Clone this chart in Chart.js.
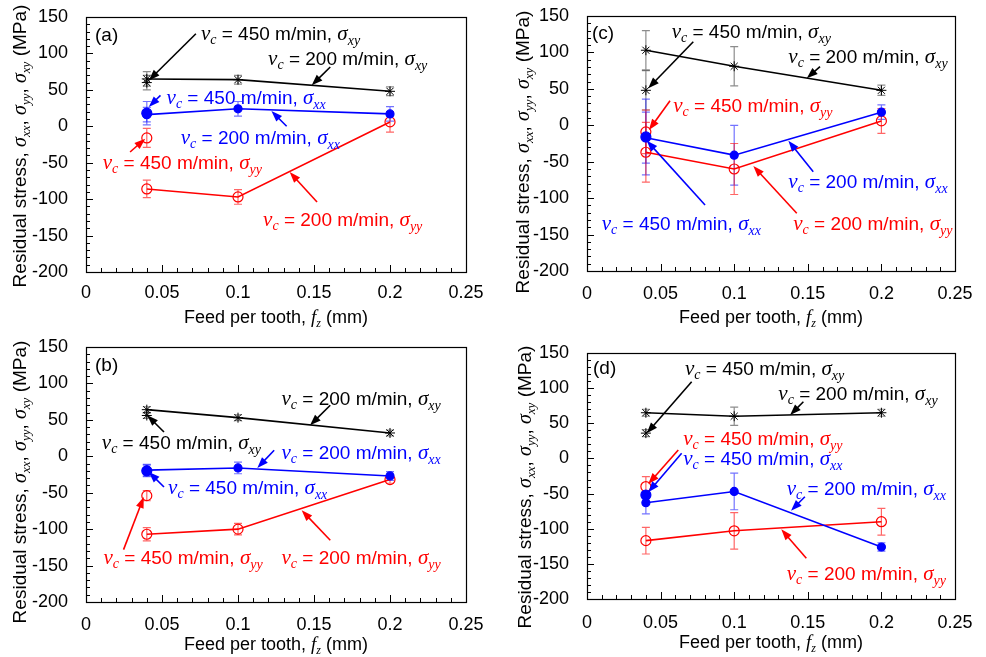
<!DOCTYPE html>
<html><head><meta charset="utf-8">
<script src="https://cdn.jsdelivr.net/npm/chart.js@4.4.0/dist/chart.umd.min.js"></script>
<style>
html,body{margin:0;padding:0;background:#fff;}
#wrap{position:relative;width:986px;height:657px;overflow:hidden;background:#fff;}
.pane{position:absolute;}
canvas{display:block;}
</style></head><body>
<div id="wrap">
<div class="pane" style="left:0;top:0;"><canvas id="ca" width="493" height="330"></canvas></div>
<div class="pane" style="left:493px;top:0;"><canvas id="cc" width="493" height="330"></canvas></div>
<div class="pane" style="left:0;top:330px;"><canvas id="cb" width="493" height="327"></canvas></div>
<div class="pane" style="left:493px;top:330px;"><canvas id="cd" width="493" height="327"></canvas></div>
</div>
<script>
// ---------- data ----------
const feed = [0.04, 0.1, 0.2];
const feed450 = [0.04];
const xTickLabels = [0, 0.05, 0.1, 0.15, 0.2, 0.25];
const yTickLabels = [-200, -150, -100, -50, 0, 50, 100, 150];

// panel (a)
const aXy200 = [65, 64, 48],     aXy200Err = [10, 6, 6];
const aXy450 = [60],             aXy450Err = [10];
const aXx200 = [16, 24, 17],     aXx200Err = [10, 10, 10];
const aXx450 = [18],             aXx450Err = [16];
const aYy200 = [-86, -97, 6],    aYy200Err = [12, 10, 14];
const aYy450 = [-16],            aYy450Err = [13];
// panel (b)
const bXy200 = [64, 53, 32],     bXy200Err = [4, 4, 4];
const bXy450 = [56],             bXy450Err = [4];
const bXx200 = [-19, -16, -27],  bXx200Err = [8, 8, 6];
const bXx450 = [-20],            bXx450Err = [8];
const bYy200 = [-107, -100, -32],bYy200Err = [9, 8, 5];
const bYy450 = [-54],            bYy450Err = [7];
// panel (c)
const cXy200 = [103, 81, 48],    cXy200Err = [27, 27, 7];
const cXy450 = [48],             cXy450Err = [27];
const cXx200 = [-17, -41, 18],   cXx200Err = [35, 41, 10];
const cXx450 = [-16],            cXx450Err = [52];
const cYy200 = [-37, -60, 6],    cYy200Err = [41, 35, 17];
const cYy450 = [-9],             cYy450Err = [30];
// panel (d)
const dXy200 = [65, 60, 65],     dXy200Err = [5, 13, 5];
const dXy450 = [36],             dXy450Err = [5];
const dXx200 = [-63, -47, -126], dXx200Err = [16, 26, 6];
const dXx450 = [-52],            dXx450Err = [5];
const dYy200 = [-117, -103, -90],dYy200Err = [19, 26, 19];
const dYy450 = [-40],            dYy450Err = [14];

// ---------- annotation layout (data coordinates) ----------
// [speed, component, colour key, textX, textY, arrowFromX, arrowFromY, arrowToX, arrowToY]
const notesA = [
  ['450','xy','k', 0.0756,118,  0.0723,127,   0.0413,63],
  ['200','xy','k', 0.1198,84,   0.1607,81.4,  0.1485,56.3],
  ['450','xx','b', 0.053,30,    0.049,42.5,   0.0413,26.5],
  ['200','xx','b', 0.0623,-24.7,0.132,0,      0.122,21],
  ['450','yy','r', 0.011,-59,   0.029,-35.3,  0.039,-17],
  ['200','yy','r', 0.1165,-137, 0.152,-104,   0.134,-62.7]
];
const notesB = [
  ['200','xy','k', 0.1286,70,   0.1607,70,    0.1474,42.5],
  ['450','xy','k', 0.0104,10.5, 0.0513,33.4,  0.0403,56.3],
  ['200','xx','b', 0.1286,-3.2, 0.1238,8.2,   0.1127,-16],
  ['450','xx','b', 0.054,-51.2, 0.0513,-42.1, 0.0413,-21.5],
  ['450','yy','r', 0.0115,-147.3,0.0247,-128.1,0.038,-55.9],
  ['200','yy','r', 0.1286,-147.3,0.1607,-115.3,0.1419,-74.1]
];
const notesC = [
  ['450','xy','k', 0.0575,119.4, 0.0722,114.7, 0.0416,50.8],
  ['200','xy','k', 0.1368,85.1,  0.1583,80.4,  0.1493,64.5],
  ['450','yy','r', 0.0586,18.7,  0.0564,33.8,  0.0421,-6.5],
  ['200','xx','b', 0.1368,-86.5, 0.1537,-63.7, 0.1368,-21.1],
  ['450','xx','b', 0.01,-143.7,  0.0802,-109.4,0.0406,-21.1],
  ['200','yy','r', 0.1401,-143.7,0.1425,-120.8,0.113,-55.9]
];
const notesD = [
  ['450','xy','k', 0.0666,118.7, 0.0711,109.1, 0.0406,35.7],
  ['200','xy','k', 0.130,83,     0.147,80.7,   0.138,61.7],
  ['450','yy','r', 0.0654,19,    0.062,12,     0.0416,-36.4],
  ['450','xx','b', 0.0654,-9.4,  0.0643,7.3,   0.0416,-48.2],
  ['200','xx','b', 0.1357,-52,   0.148,-54.5,  0.1386,-74.4],
  ['200','yy','r', 0.1357,-173,  0.149,-142,   0.132,-100.9]
];

// ---------- styling ----------
const COL = {k:'#000000', b:'#0000ff', r:'#ff0000'};
const ERRCOL = {k:'rgba(0,0,0,0.45)', b:'rgba(0,0,255,0.55)', r:'rgba(255,0,0,0.6)'};
const SANS = '"Liberation Sans", Arial, sans-serif';
const SERIF = '"Liberation Serif", "Times New Roman", serif';

function vcSegs(speed, comp){
  return [
    {t:'v', f:'italic 21px '+SERIF},
    {t:'c', f:'italic 14px '+SERIF, dy:4},
    {t:' = '+speed+' m/min, ', f:'19px '+SANS},
    {t:'\u03c3', f:'italic 21px '+SERIF},
    {t:comp, f:'italic 14px '+SERIF, dy:5}
  ];
}
const yTitleSegs = [
  {t:'Residual stress, ', f:'19px '+SANS},
  {t:'\u03c3', f:'italic 20px '+SERIF}, {t:'xx', f:'italic 13px '+SERIF, dy:4}, {t:', ', f:'19px '+SANS},
  {t:'\u03c3', f:'italic 20px '+SERIF}, {t:'yy', f:'italic 13px '+SERIF, dy:4}, {t:', ', f:'19px '+SANS},
  {t:'\u03c3', f:'italic 20px '+SERIF}, {t:'xy', f:'italic 13px '+SERIF, dy:4}, {t:' (MPa)', f:'19px '+SANS}
];
const xTitleSegs = [
  {t:'Feed per tooth, ', f:'18px '+SANS},
  {t:'f', f:'italic 19px '+SERIF}, {t:'z', f:'italic 12px '+SERIF, dy:4},
  {t:' (mm)', f:'18px '+SANS}
];

function drawRich(ctx, segs, x, y, color, rot, center){
  ctx.save();
  ctx.fillStyle = color; ctx.textBaseline = 'alphabetic'; ctx.textAlign = 'left';
  let total = 0;
  const w = segs.map(s => { ctx.font = s.f; const m = ctx.measureText(s.t).width; total += m; return m; });
  ctx.translate(x, y);
  if (rot) ctx.rotate(rot);
  let cx = center ? -total/2 : 0;
  segs.forEach((s,i) => { ctx.font = s.f; ctx.fillText(s.t, cx, s.dy || 0); cx += w[i]; });
  ctx.restore();
}

function arrow(ctx, x1, y1, x2, y2, color){
  const a = Math.atan2(y2-y1, x2-x1), L = 11, W = 4;
  const c = Math.cos(a), s = Math.sin(a);
  ctx.save();
  ctx.strokeStyle = color; ctx.fillStyle = color; ctx.lineWidth = 1.6;
  ctx.beginPath(); ctx.moveTo(x1, y1); ctx.lineTo(x2 - L*0.7*c, y2 - L*0.7*s); ctx.stroke();
  ctx.beginPath(); ctx.moveTo(x2, y2);
  ctx.lineTo(x2 - L*c + W*s, y2 - L*s - W*c);
  ctx.lineTo(x2 - L*c - W*s, y2 - L*s + W*c);
  ctx.closePath(); ctx.fill();
  ctx.restore();
}

const decorPlugin = {
  id: 'decor',
  beforeDatasetsDraw(chart){
    const ctx = chart.ctx, xs = chart.scales.x, ys = chart.scales.y;
    chart.data.datasets.forEach(ds => {
      if (!ds.errors) return;
      ctx.save(); ctx.strokeStyle = ds.errColor; ctx.lineWidth = 1.2;
      ds.data.forEach((p, i) => {
        const e = ds.errors[i]; if (!e) return;
        const px = xs.getPixelForValue(p.x);
        const y1 = ys.getPixelForValue(p.y + e), y2 = ys.getPixelForValue(p.y - e);
        ctx.beginPath();
        ctx.moveTo(px, y1); ctx.lineTo(px, y2);
        ctx.moveTo(px-4, y1); ctx.lineTo(px+4, y1);
        ctx.moveTo(px-4, y2); ctx.lineTo(px+4, y2);
        ctx.stroke();
      });
      ctx.restore();
    });
  },
  afterDatasetsDraw(chart){
    const ctx = chart.ctx, xs = chart.scales.x, ys = chart.scales.y;
    const cfg = chart.options.plugins.decor;
    (cfg.notes || []).forEach(n => {
      const [sp, comp, ck, tx, ty, ax1, ay1, ax2, ay2] = n;
      arrow(ctx, xs.getPixelForValue(ax1), ys.getPixelForValue(ay1),
                 xs.getPixelForValue(ax2), ys.getPixelForValue(ay2), COL[ck]);
      drawRich(ctx, vcSegs(sp, comp), xs.getPixelForValue(tx), ys.getPixelForValue(ty), COL[ck]);
    });
  },
  afterDraw(chart){
    const ctx = chart.ctx, a = chart.chartArea, xs = chart.scales.x, ys = chart.scales.y;
    const cfg = chart.options.plugins.decor;
    ctx.save();
    ctx.strokeStyle = '#000'; ctx.lineWidth = 1.2;
    ctx.strokeRect(Math.round(a.left)+0.5, Math.round(a.top)+0.5, Math.round(a.right-a.left), Math.round(a.bottom-a.top));
    ctx.lineWidth = 1;
    ctx.beginPath();
    for (let v = -200; v <= 150; v += 10) {
      const py = Math.round(ys.getPixelForValue(v)) + 0.5;
      const len = (v % 50 === 0) ? 7 : 4;
      ctx.moveTo(a.left, py); ctx.lineTo(a.left + len, py);
    }
    for (let k = 0; k <= 25; k++) {
      const px = Math.round(xs.getPixelForValue(k/100)) + 0.5;
      const len = (k % 5 === 0) ? 7 : 4;
      ctx.moveTo(px, a.bottom); ctx.lineTo(px, a.bottom - len);
    }
    ctx.stroke();
    ctx.restore();
    // panel letter
    ctx.save(); ctx.fillStyle = '#000'; ctx.font = '19px ' + SANS;
    ctx.fillText(cfg.letter, a.left + cfg.letterDx, a.top + cfg.letterDy);
    ctx.restore();
    // axis titles
    drawRich(ctx, yTitleSegs, cfg.yTitleX, cfg.yTitleY, '#000', -Math.PI/2, true);
    drawRich(ctx, xTitleSegs, (a.left + a.right)/2, cfg.xTitleY, '#000', 0, true);
  }
};

function series(xs, ys, errs, ck, style, line, radius){
  const filled = style === 'filled';
  return {
    data: xs.map((x, i) => ({x: x, y: ys[i]})),
    errors: errs, errColor: ERRCOL[ck],
    showLine: line, borderColor: COL[ck], borderWidth: 1.6,
    pointStyle: style === 'star' ? 'star' : 'circle',
    pointRadius: radius, pointBorderWidth: style === 'star' ? 1 : 1.2,
    pointBorderColor: COL[ck],
    pointBackgroundColor: filled ? COL[ck] : 'rgba(0,0,0,0)',
    backgroundColor: filled ? COL[ck] : 'rgba(0,0,0,0)',
    tension: 0
  };
}

function makeChart(id, S, box, deco){
  const canvas = document.getElementById(id);
  const W = canvas.width, H = canvas.height;
  const datasets = [
    series(feed, S.xy200, S.xy200e, 'k', 'star', true, 5),
    series(feed450, S.xy450, S.xy450e, 'k', 'star', false, 5),
    series(feed, S.xx200, S.xx200e, 'b', 'filled', true, 4),
    series(feed450, S.xx450, S.xx450e, 'b', 'filled', false, 5),
    series(feed, S.yy200, S.yy200e, 'r', 'open', true, 5),
    series(feed450, S.yy450, S.yy450e, 'r', 'open', false, 5)
  ];
  const tickFont = {family: SANS, size: 18};
  return new Chart(canvas, {
    type: 'scatter',
    data: {datasets},
    plugins: [decorPlugin],
    options: {
      responsive: false, animation: false, devicePixelRatio: 1,
      layout: {padding: {left: 0, top: box.T, right: W - box.R, bottom: 0}},
      plugins: {legend: {display: false}, tooltip: {enabled: false}, decor: deco},
      scales: {
        x: {
          type: 'linear', min: 0, max: 0.25,
          afterBuildTicks: s => { s.ticks = xTickLabels.map(v => ({value: v})); },
          afterFit: s => { s.height = H - box.B; s.paddingLeft = 0; s.paddingRight = 0; },
          ticks: {font: tickFont, color: '#000', padding: box.xPad, maxRotation: 0, autoSkip: false,
                  callback: v => String(+(+v).toFixed(2))},
          grid: {display: false, drawTicks: false},
          border: {display: false}
        },
        y: {
          type: 'linear', min: -200, max: 150,
          afterBuildTicks: s => { s.ticks = yTickLabels.map(v => ({value: v})); },
          afterFit: s => { s.width = box.L; s.paddingTop = 0; s.paddingBottom = 0; },
          ticks: {font: tickFont, color: '#000', padding: 18, autoSkip: false,
                  callback: v => String(v)},
          grid: {display: false, drawTicks: false},
          border: {display: false}
        }
      }
    }
  });
}

makeChart('ca', {
  xy200:aXy200, xy200e:aXy200Err, xy450:aXy450, xy450e:aXy450Err,
  xx200:aXx200, xx200e:aXx200Err, xx450:aXx450, xx450e:aXx450Err,
  yy200:aYy200, yy200e:aYy200Err, yy450:aYy450, yy450e:aYy450Err
}, {L:86, T:17, R:466, B:272, xPad:10},
{notes: notesA, letter:'(a)', letterDx:9, letterDy:24, yTitleX:26, yTitleY:146, xTitleY:323});

makeChart('cc', {
  xy200:cXy200, xy200e:cXy200Err, xy450:cXy450, xy450e:cXy450Err,
  xx200:cXx200, xx200e:cXx200Err, xx450:cXx450, xx450e:cXx450Err,
  yy200:cYy200, yy200e:cYy200Err, yy450:cYy450, yy450e:cYy450Err
}, {L:94, T:16, R:462, B:271, xPad:12},
{notes: notesC, letter:'(c)', letterDx:5, letterDy:23, yTitleX:36, yTitleY:152, xTitleY:323});

makeChart('cb', {
  xy200:bXy200, xy200e:bXy200Err, xy450:bXy450, xy450e:bXy450Err,
  xx200:bXx200, xx200e:bXx200Err, xx450:bXx450, xx450e:bXx450Err,
  yy200:bYy200, yy200e:bYy200Err, yy450:bYy450, yy450e:bYy450Err
}, {L:86, T:17, R:466, B:272, xPad:12},
{notes: notesB, letter:'(b)', letterDx:9, letterDy:24, yTitleX:26, yTitleY:152, xTitleY:320});

makeChart('cd', {
  xy200:dXy200, xy200e:dXy200Err, xy450:dXy450, xy450e:dXy450Err,
  xx200:dXx200, xx200e:dXx200Err, xx450:dXx450, xx450e:dXx450Err,
  yy200:dYy200, yy200e:dYy200Err, yy450:dYy450, yy450e:dYy450Err
}, {L:94, T:23, R:462, B:269, xPad:13},
{notes: notesD, letter:'(d)', letterDx:6, letterDy:21, yTitleX:38, yTitleY:157, xTitleY:318});
</script>
</body></html>
